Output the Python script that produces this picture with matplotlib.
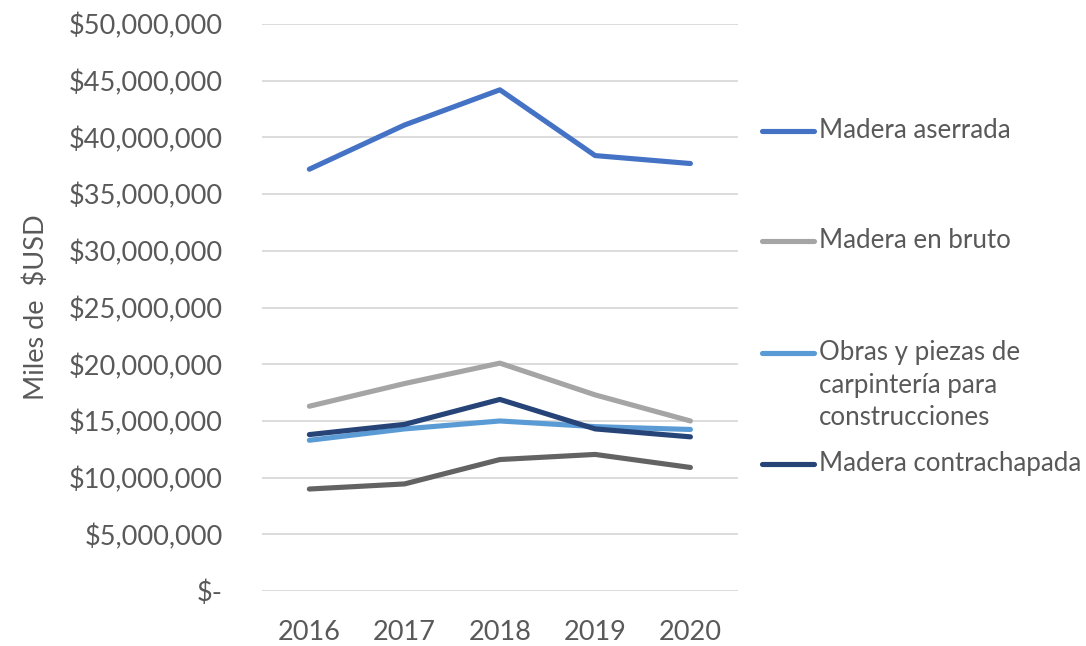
import matplotlib.pyplot as plt
from matplotlib.lines import Line2D
from matplotlib.ticker import FuncFormatter

plt.rcParams['font.family'] = ['Lato', 'DejaVu Sans']

TEXT = "#595959"

years = ["2016", "2017", "2018", "2019", "2020"]

# miles de USD
aserrada = [37200000, 41100000, 44200000, 38400000, 37700000]
bruto = [16300000, 18300000, 20100000, 17300000, 15000000]
obras = [13300000, 14300000, 15000000, 14500000, 14250000]
contrachapada = [13800000, 14700000, 16900000, 14300000, 13600000]
otros = [9000000, 9450000, 11600000, 12050000, 10900000]

series = [
    ("Madera aserrada", aserrada, "#4472C4"),
    ("Madera en bruto", bruto, "#A5A5A5"),
    ("Obras y piezas de\ncarpintería para\nconstrucciones", obras, "#5B9BD5"),
    ("Madera contrachapada", contrachapada, "#264478"),
    (None, otros, "#636363"),
]


def money(v, pos):
    if v == 0:
        return "$-"
    return f"${v:,.0f}"


fig = plt.figure(figsize=(10.86, 6.46), dpi=100)
ax = fig.add_axes([0.241, 0.085, 0.4386, 0.8778])

x = list(range(len(years)))
for name, vals, col in series:
    ax.plot(x, vals, color=col, linewidth=3.7,
            solid_capstyle="round", solid_joinstyle="round")

ax.set_xlim(-0.5, len(years) - 0.5)
ax.set_ylim(0, 50000000)
ax.set_yticks(range(0, 50000001, 5000000))
ax.yaxis.set_major_formatter(FuncFormatter(money))
ax.set_xticks(x)
ax.set_xticklabels(years)
ax.grid(axis="y", color="#D9D9D9", linewidth=1.3)
ax.set_axisbelow(True)
for s in ax.spines.values():
    s.set_visible(False)
ax.tick_params(axis="y", length=0, pad=28, labelsize=19.5, labelcolor=TEXT)
ax.tick_params(axis="x", length=0, pad=21, labelsize=19.5, labelcolor=TEXT)
ax.set_ylabel("Miles de  $USD", fontsize=19.5, color=TEXT, labelpad=14)

# legend entries laid out like the Excel legend
legend_y = [131, 241, 353, 464]
for (name, vals, col), py in zip(series[:4], legend_y):
    fy = 1 - py / 646
    fig.add_artist(Line2D([762 / 1086, 814 / 1086], [fy, fy], color=col,
                          linewidth=3.7, solid_capstyle="round"))
    fig.text(819 / 1086, fy + 13 / 646, name, fontsize=18.6, color=TEXT,
             va="top", ha="left", linespacing=1.38)

fig.savefig("out.png", dpi=100)
